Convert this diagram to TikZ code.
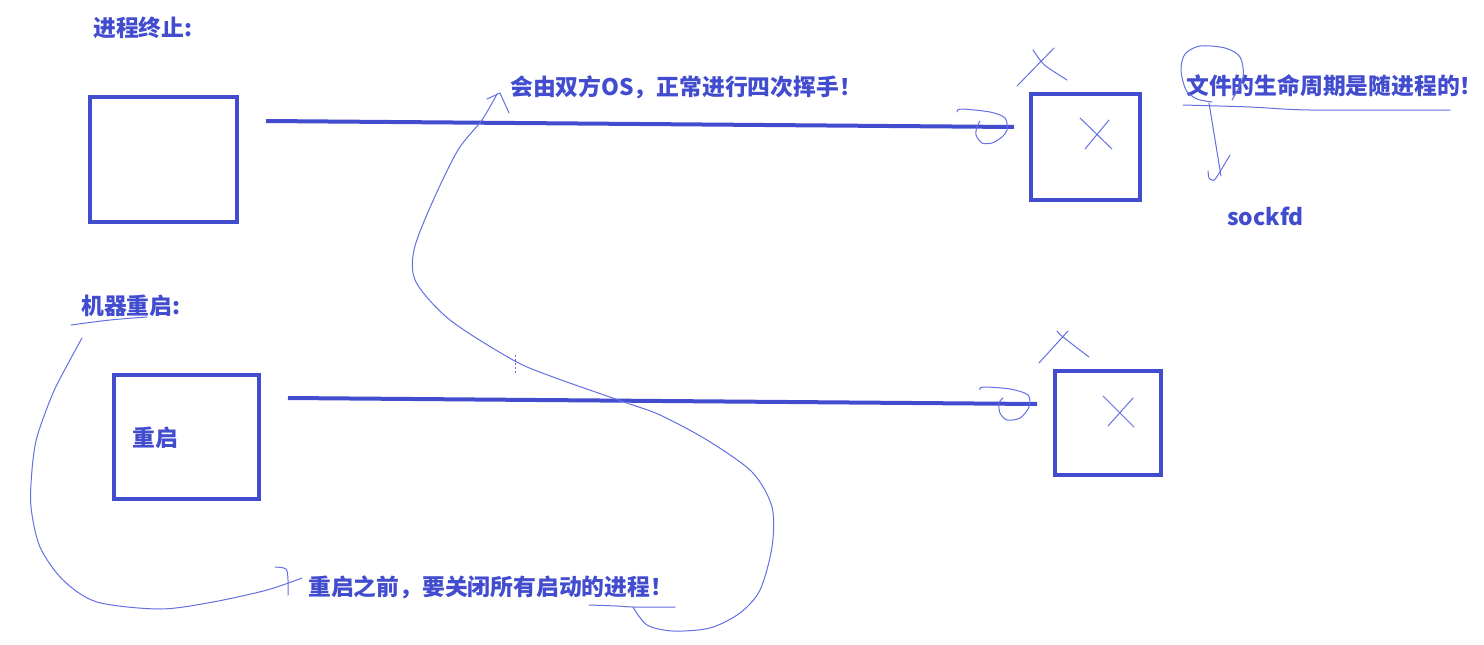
\documentclass[tikz,border=0pt]{standalone}
\usepackage{fontspec}
\setmainfont{Noto Sans CJK SC}
\definecolor{ink}{RGB}{66,76,206}
\definecolor{pen}{RGB}{100,112,226}
\begin{document}
\begin{tikzpicture}[x=1pt,y=-1pt,
  boxnode/.style={draw=ink,line width=4pt,inner sep=0pt},
  lbl/.style={text=ink,font=\fontsize{22.8}{27}\selectfont\bfseries,inner sep=0pt,anchor=west},
  thick line/.style={draw=ink,line width=4pt},
  pencil/.style={draw=pen,line width=1pt,line cap=round,line join=round}]
\useasboundingbox (0,0) rectangle (1484,645);
\fill[white] (0,0) rectangle (1484,645);

% boxes
\node[boxnode,minimum width=147pt,minimum height=125pt] (b1) at (163.5,159.5) {};
\node[boxnode,minimum width=109pt,minimum height=106pt] (b2) at (1085.5,147) {};
\node[boxnode,minimum width=145pt,minimum height=124pt] (b3) at (186.5,437) {};
\node[boxnode,minimum width=106pt,minimum height=104pt] (b4) at (1108,423) {};

% texts
\node[lbl] (t1) at (93,28) {进程终止:};
\node[lbl] (t2) at (510,87) {会由双方OS，正常进行四次挥手！};
\node[lbl] (t3) at (1186,86) {文件的生命周期是随进程的！};
\node[lbl] (t4) at (1227,216) {sockfd};
\node[lbl] (t5) at (81,306) {机器重启:};
\node[lbl,anchor=center] (t6) at (155,438) {重启};
\node[lbl] (t7) at (308,587) {重启之前，要关闭所有启动的进程！};

% connection lines
\coordinate (l1s) at (266,121);
\coordinate (l1e) at (1014,127);
\coordinate (l2s) at (288,398);
\coordinate (l2e) at (1037,404);
\draw[thick line] (l1s) -- (l1e);
\draw[thick line] (l2s) -- (l2e);

% crosses above and inside the right boxes
\draw[pencil] (1017,86) -- (1054,48);
\draw[pencil] plot[smooth] coordinates {(1033,50) (1040,60) (1047,67) (1067,80)};
\draw[pencil] (1080,118) -- (1112,149);
\draw[pencil] (1109,120) -- (1085,149);
\draw[pencil] (1039,363) -- (1068,331);
\draw[pencil] plot[smooth] coordinates {(1057,331) (1063,337) (1089,357)};
\draw[pencil] (1103,396) -- (1134,427);
\draw[pencil] (1133,398) -- (1108,426);

% loops at line ends
\draw[pencil] plot[smooth] coordinates {(957,112) (961,109) (990,112) (1005,118) (1007,130) (1002,137) (992,143) (982,143) (976,135) (977,127) (980,121)};
\draw[pencil] plot[smooth] coordinates {(980,390) (983,387) (1010,389) (1028,395) (1029,407) (1020,418) (1007,420) (1000,413) (999,403) (1003,398)};

% circle, underline and arrow at right text
\draw[pencil] plot[smooth] coordinates {(1232,100) (1243,77) (1240,57) (1225,48) (1200,46) (1185,54) (1181,70) (1186,90) (1197,99) (1212,102)};
\draw[pencil] plot[smooth] coordinates {(1183,105) (1250,107) (1310,110) (1450,110)};
\draw[pencil] (1209,103) -- (1221,176);
\draw[pencil] plot[smooth] coordinates {(1208,171) (1209,178) (1212,180) (1216,178) (1230,155)};

% big S-shaped arrow
\draw[pencil] plot[smooth] coordinates {(589,605) (617,606) (633,607) (675,607)};
\draw[pencil] plot[smooth] coordinates {(633,607) (647,625) (673,631) (710,628) (740,613) (760,590) (772,547) (772,507) (752,472) (707,440) (660,415) (627,403) (553,377) (513,360) (450,320) (416,282) (414,250) (432,203) (458,150) (482,120) (497,94)};
\draw[pencil] (487,99) -- (500,93) -- (509,113);
\draw[pen,line width=0.8pt,dashed,dash pattern=on 2pt off 2pt] (515,355) -- (515,373);

% left curve from 机器重启 to bottom text
\draw[pencil] plot[smooth] coordinates {(71,325) (110,320) (147,317)};
\draw[pencil] plot[smooth] coordinates {(82,338) (70,360) (53,393) (37,437) (32,470) (31,507) (40,547) (63,580) (97,602) (160,609) (213,602) (267,590) (302,578)};
\draw[pencil] plot[smooth] coordinates {(275,567) (286,569) (288,580) (288,595)};
\end{tikzpicture}
\end{document}
